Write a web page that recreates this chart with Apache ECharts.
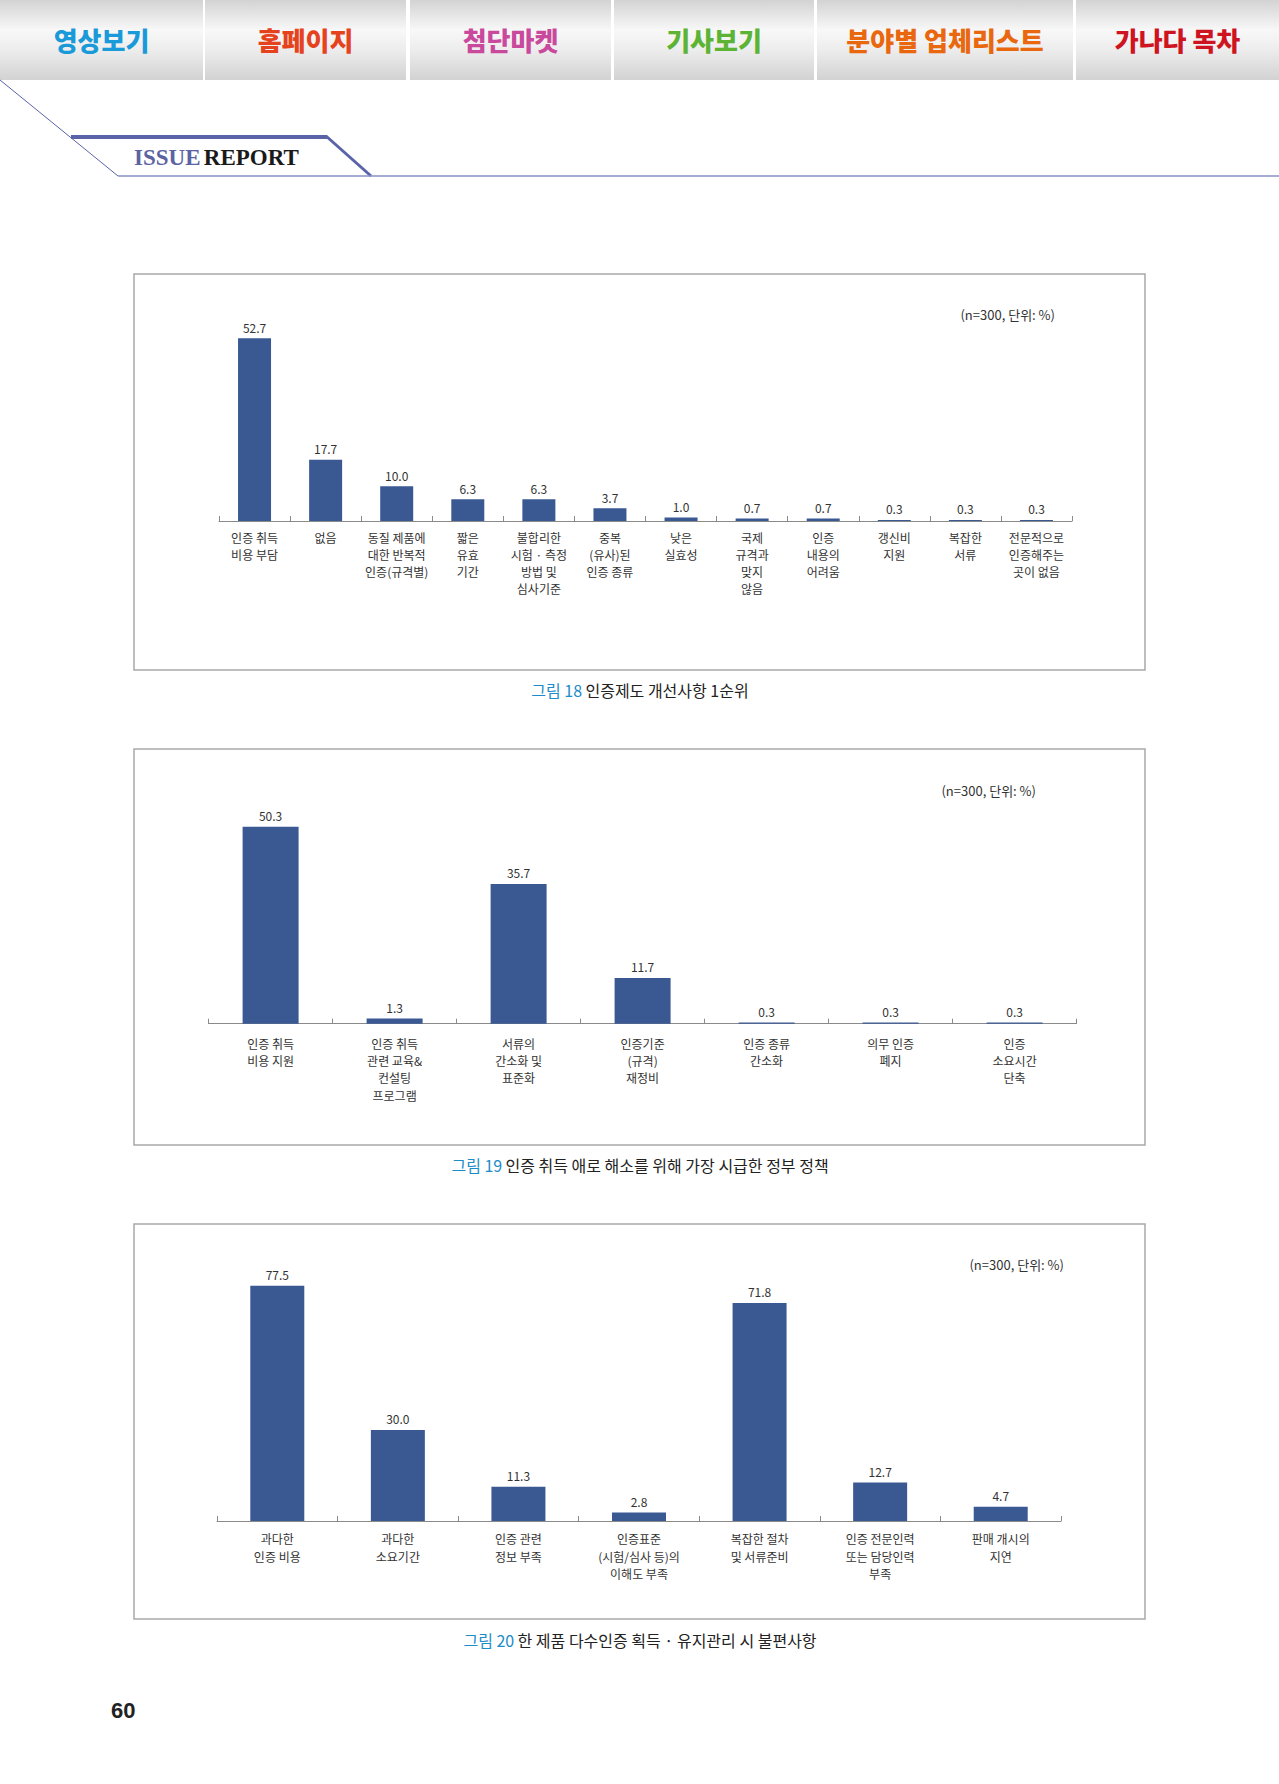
<!DOCTYPE html>
<html>
<head>
<meta charset="utf-8">
<script src="https://cdn.jsdelivr.net/npm/echarts@6/dist/echarts.min.js"></script>
<style>
html,body{margin:0;padding:0;background:#fff;}
#page{width:1279px;height:1784px;}
</style>
</head>
<body>
<div id="page"></div>
<script>
// ---- Data ----
const cats18 = ['인증 취득\n비용 부담','없음','동질 제품에\n대한 반복적\n인증(규격별)','짧은\n유효\n기간','불합리한\n시험 · 측정\n방법 및\n심사기준','중복\n(유사)된\n인증 종류','낮은\n실효성','국제\n규격과\n맞지\n않음','인증\n내용의\n어려움','갱신비\n지원','복잡한\n서류','전문적으로\n인증해주는\n곳이 없음'];
const vals18 = [52.7,17.7,10.0,6.3,6.3,3.7,1.0,0.7,0.7,0.3,0.3,0.3];

const cats19 = ['인증 취득\n비용 지원','인증 취득\n관련 교육&\n컨설팅\n프로그램','서류의\n간소화 및\n표준화','인증기준\n(규격)\n재정비','인증 종류\n간소화','의무 인증\n폐지','인증\n소요시간\n단축'];
const vals19 = [50.3,1.3,35.7,11.7,0.3,0.3,0.3];

const cats20 = ['과다한\n인증 비용','과다한\n소요기간','인증 관련\n정보 부족','인증표준\n(시험/심사 등)의\n이해도 부족','복잡한 절차\n및 서류준비','인증 전문인력\n또는 담당인력\n부족','판매 개시의\n지연'];
const vals20 = [77.5,30.0,11.3,2.8,71.8,12.7,4.7];

const noteText = '(n=300, 단위: %)';
const captionNums = ['그림 18','그림 19','그림 20'];
const captionTitles = ['인증제도 개선사항 1순위','인증 취득 애로 해소를 위해 가장 시급한 정부 정책','한 제품 다수인증 획득 · 유지관리 시 불편사항'];
const navItems = ['영상보기','홈페이지','첨단마켓','기사보기','분야별 업체리스트','가나다 목차'];
const pageNumber = '60';

// ---- Styles / layout ----
const FONT = '"Noto Sans CJK KR", "Noto Sans", sans-serif';
const BAR = '#3a5993';
const navColors = ['#1a9ad8','#e5431d','#c94a9c','#5db333','#e8670f','#cf1421'];
const navX = [[0,203],[205,406],[410,611],[614,814],[817,1073],[1076,1279]];

const chart = echarts.init(document.getElementById('page'), null, {renderer:'svg', width:1279, height:1784});

const graphic = [];
const navGrad = {type:'linear',x:0,y:0,x2:0,y2:1,colorStops:[
  {offset:0,color:'#d3d3d3'},{offset:0.38,color:'#f8f8f8'},{offset:0.62,color:'#ededed'},{offset:1,color:'#d2d2d2'}]};
navItems.forEach((t,i)=>{
  const [x0,x1] = navX[i];
  graphic.push({type:'rect',shape:{x:x0,y:0,width:x1-x0,height:80},style:{fill:navGrad},silent:true});
  graphic.push({type:'text',x:(x0+x1)/2,y:39,style:{text:t,fill:navColors[i],font:'900 26px '+FONT,align:'center',verticalAlign:'middle'}});
});
// header decoration lines
graphic.push({type:'line',shape:{x1:0,y1:80,x2:118,y2:176},style:{stroke:'#5a63a8',lineWidth:1}});
graphic.push({type:'line',shape:{x1:71,y1:137,x2:327,y2:137},style:{stroke:'#5a63a8',lineWidth:4}});
graphic.push({type:'line',shape:{x1:326,y1:136,x2:371,y2:176},style:{stroke:'#5a63a8',lineWidth:3}});
graphic.push({type:'line',shape:{x1:118,y1:176,x2:1279,y2:176},style:{stroke:'#8a90c4',lineWidth:1.5}});
graphic.push({type:'text',x:134,y:157,style:{
  text:'{a|ISSUE} {b|REPORT}',verticalAlign:'middle',
  rich:{a:{fill:'#5b63a2',font:'bold 23px "Liberation Serif", serif'},b:{fill:'#1a1a1a',font:'bold 23px "Liberation Serif", serif'}}}});

// chart boxes
const boxes = [[274,670],[749,1145],[1224,1619]];
boxes.forEach(([t,b])=>{
  graphic.push({type:'rect',shape:{x:134,y:t,width:1011,height:b-t},style:{fill:'none',stroke:'#a9a9a9',lineWidth:1.5}});
});
// notes
[[1055,314],[1036,790],[1064,1264]].forEach(([x,y])=>{
  graphic.push({type:'text',x:x,y:y,style:{text:noteText,fill:'#333',font:'13px '+FONT,align:'right',verticalAlign:'middle'}});
});
// captions
[690,1165,1640].forEach((y,i)=>{
  graphic.push({type:'text',x:640,y:y,style:{
    text:'{a|'+captionNums[i]+'} {b|'+captionTitles[i]+'}',align:'center',verticalAlign:'middle',
    rich:{a:{fill:'#1d8cc8',font:'16px '+FONT},b:{fill:'#222',font:'16px '+FONT}}}});
});
// page number
graphic.push({type:'text',x:111,y:1710,style:{text:pageNumber,fill:'#222',font:'bold 22px "Liberation Sans Narrow", "Liberation Sans", sans-serif',verticalAlign:'middle'}});

function xAx(idx, cats, margin, lh){
  return {type:'category',gridIndex:idx,data:cats,
    axisLine:{lineStyle:{color:'#8a8a8a',width:1}},
    axisTick:{show:true,inside:true,length:5,lineStyle:{color:'#8a8a8a'}},
    axisLabel:{interval:0,hideOverlap:false,margin:margin,color:'#333',fontSize:12,fontFamily:FONT,lineHeight:lh}};
}
function yAx(idx,max){
  return {type:'value',gridIndex:idx,min:0,max:max,show:false,splitLine:{show:false}};
}
function ser(idx, vals, bw){
  return {type:'bar',xAxisIndex:idx,yAxisIndex:idx,data:vals,barWidth:bw,
    itemStyle:{color:BAR},
    label:{show:true,position:'top',distance:5,color:'#333',fontSize:12,fontFamily:FONT,
      formatter:p=>p.value.toFixed(1)}};
}

chart.setOption({
  animation:false,
  backgroundColor:'#fff',
  graphic:graphic,
  grid:[
    {left:219,width:853,top:313,height:208},
    {left:208.6,width:868,top:788.7,height:235},
    {left:217,width:844,top:1247.7,height:273.3}
  ],
  xAxis:[xAx(0,cats18,8,17),xAx(1,cats19,11,17.3),xAx(2,cats20,9,17.5)],
  yAxis:[yAx(0,60),yAx(1,60),yAx(2,90)],
  series:[ser(0,vals18,33),ser(1,vals19,56),ser(2,vals20,54)]
});
</script>
</body>
</html>
